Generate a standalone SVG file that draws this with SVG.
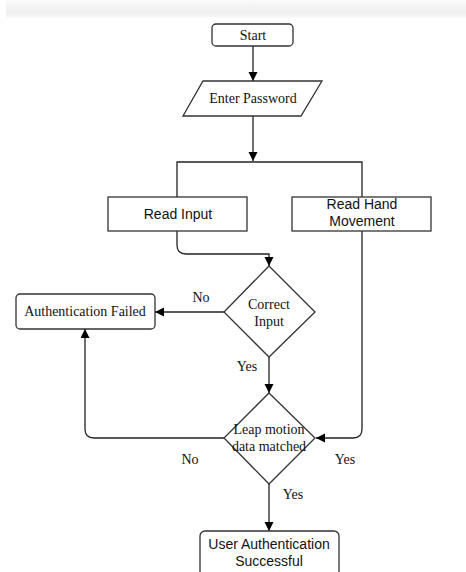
<svg xmlns="http://www.w3.org/2000/svg" width="466" height="572" viewBox="0 0 466 572">
<style>
.box{fill:#fff;stroke:#333;stroke-width:1.3}
.ln{fill:none;stroke:#222;stroke-width:1.3}
.serif{font-family:"Liberation Serif","Times New Roman",serif;font-size:14px;fill:#111;text-anchor:middle}
.sans{font-family:"Liberation Sans",Arial,sans-serif;font-size:14px;fill:#111;text-anchor:middle}
</style>
<defs>
<marker id="arr" markerWidth="10" markerHeight="10" refX="9" refY="4.5" orient="auto" markerUnits="userSpaceOnUse">
<path d="M0,0 L9,4.5 L0,9 Z" fill="#000"/>
</marker>
<linearGradient id="band" x1="0" y1="0" x2="0" y2="1">
<stop offset="0" stop-color="#fafafa"/>
<stop offset="0.7" stop-color="#efefef"/>
<stop offset="1" stop-color="#fbfbfb"/>
</linearGradient>
</defs>
<rect x="0" y="0" width="466" height="572" fill="#fff"/>
<rect x="6" y="0" width="460" height="18" fill="url(#band)"/>

<g id="connectors">
<path class="ln" d="M253,46 V81" marker-end="url(#arr)"/>
<path class="ln" d="M253,116 V161" marker-end="url(#arr)"/>
<path class="ln" d="M177,197 V162 H362 V197"/>
<path class="ln" d="M177,231 V245 Q177,254 186,254 H269 V266" marker-end="url(#arr)"/>
<path class="ln" d="M224,312 H155" marker-end="url(#arr)"/>
<path class="ln" d="M269,357 V393" marker-end="url(#arr)"/>
<path class="ln" d="M362,231 V429 Q362,438 353,438 H316" marker-end="url(#arr)"/>
<path class="ln" d="M224,438 H94 Q85,438 85,429 V329" marker-end="url(#arr)"/>
<path class="ln" d="M269,484 V531" marker-end="url(#arr)"/>
<text class="serif" x="201" y="302">No</text>
<text class="serif" x="247" y="371">Yes</text>
<text class="serif" x="190" y="464">No</text>
<text class="serif" x="345" y="464">Yes</text>
<text class="serif" x="293" y="499">Yes</text>
</g>

<g id="start">
<rect class="box" x="212" y="24" width="81" height="22" rx="4"/>
<text class="serif" x="253" y="40">Start</text>
</g>
<g id="enter-password">
<polygon class="box" points="203,81 322,81 301,116 183,116"/>
<text class="serif" x="253" y="103">Enter Password</text>
</g>
<g id="read-input">
<rect class="box" x="108" y="197" width="139" height="34"/>
<text class="sans" x="178" y="219">Read Input</text>
</g>
<g id="read-hand">
<rect class="box" x="292" y="197" width="139" height="34"/>
<text class="sans" x="362" y="209">Read Hand</text>
<text class="sans" x="362" y="226">Movement</text>
</g>
<g id="correct-input">
<polygon class="box" points="269,266 315,312 269,357 224,312"/>
<text class="serif" x="269" y="309">Correct</text>
<text class="serif" x="269" y="326">Input</text>
</g>
<g id="auth-failed">
<rect class="box" x="16" y="294" width="139" height="35" rx="4"/>
<text class="serif" x="85" y="316">Authentication Failed</text>
</g>
<g id="leap-motion">
<polygon class="box" points="269,393 315,438 269,484 224,438"/>
<text class="serif" x="269" y="434">Leap motion</text>
<text class="serif" x="269" y="451">data matched</text>
</g>
<g id="auth-success">
<rect class="box" x="200" y="531" width="139" height="50" rx="5"/>
<text class="sans" x="269" y="549">User Authentication</text>
<text class="sans" x="269" y="566">Successful</text>
</g>
</svg>
